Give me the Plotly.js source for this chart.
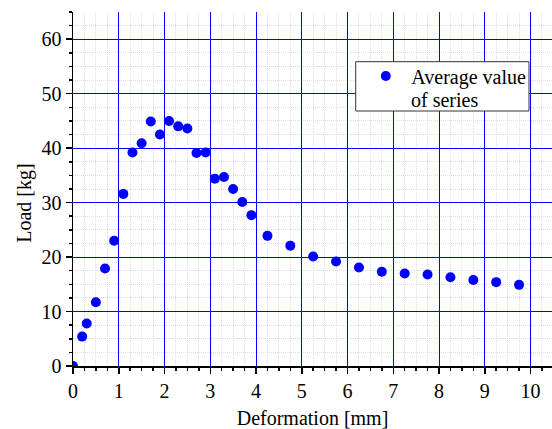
<!DOCTYPE html>
<html>
<head>
<meta charset="utf-8">
<script src="https://cdn.plot.ly/plotly-3.0.1.min.js"></script>
<style>html,body{margin:0;padding:0;background:#fff;} #chart{width:552px;height:429px;}</style>
</head>
<body>
<div id="chart"></div>
<script>
var deformation = [0, 0.2, 0.3, 0.5, 0.7, 0.9, 1.1, 1.3, 1.5, 1.7, 1.9, 2.1, 2.3, 2.5, 2.7, 2.9, 3.1, 3.3, 3.5, 3.7, 3.9, 4.25, 4.75, 5.25, 5.75, 6.25, 6.75, 7.25, 7.75, 8.25, 8.75, 9.25, 9.75];
var load = [0, 5.4, 7.8, 11.7, 17.9, 23.0, 31.6, 39.2, 40.9, 44.9, 42.5, 45.0, 44.0, 43.6, 39.1, 39.2, 34.4, 34.7, 32.5, 30.1, 27.7, 23.9, 22.1, 20.1, 19.2, 18.1, 17.3, 17.0, 16.8, 16.3, 15.8, 15.4, 14.9];
var seriesNameLine1 = 'Average value';
var seriesNameLine2 = 'of series';
var xTitle = 'Deformation [mm]';
var yTitle = 'Load [kg]';

var font = 'Liberation Serif, Times New Roman, serif';

// minor tick positions (excluding the major ones so the blue grid stays clean)
var xMinor = [], yMinor = [];
for (var i = 1; i * 0.25 <= 10.47; i++) { if (i % 4 !== 0) xMinor.push(i * 0.25); }
for (var j = 1; j * 2.5 <= 65; j++) { if (j % 4 !== 0) yMinor.push(j * 2.5); }

var trace = {
  x: deformation, y: load, type: 'scatter', mode: 'markers', name: seriesNameLine1,
  marker: {color: '#0000ff', size: 10},
  cliponaxis: true
};

var layout = {
  width: 552, height: 429,
  margin: {l: 73, r: 0, t: 12, b: 63},
  paper_bgcolor: '#fff', plot_bgcolor: '#fff',
  font: {family: font, size: 20, color: '#000'},
  showlegend: true,
  legend: {
    x: 0.5998, y: 0.8744, xanchor: 'left', yanchor: 'top',
    bgcolor: 'rgba(0,0,0,0)', borderwidth: 0,
    font: {family: font, size: 20, color: '#000'},
    itemwidth: 41
  },
  shapes: [{
    type: 'rect', xref: 'paper', yref: 'paper', layer: 'above',
    x0: 0.5902, x1: 0.952, y0: 0.7203, y1: 0.8596,
    fillcolor: '#fff', line: {color: '#333', width: 1}
  }],
  xaxis: {
    range: [0, 10.47], dtick: 1, tick0: 0,
    showline: true, linecolor: '#000', linewidth: 1.5,
    ticks: 'outside', ticklen: 6, tickcolor: '#000', tickwidth: 1.5,
    showgrid: true, gridcolor: '#0000ff', gridwidth: 1,
    zeroline: false,
    minor: {tickmode: 'array', tickvals: xMinor, ticks: 'outside', ticklen: 3, tickcolor: '#000', showgrid: true, gridcolor: '#dedede', griddash: '1px,1px', gridwidth: 1},
    tickfont: {family: font, size: 20, color: '#000'},
    title: {text: xTitle, font: {family: font, size: 20, color: '#000'}, standoff: 16}
  },
  yaxis: {
    range: [0, 65], dtick: 10, tick0: 0,
    showline: true, linecolor: '#000', linewidth: 1.5,
    ticks: 'outside', ticklen: 6, tickcolor: '#000', tickwidth: 1.5,
    showgrid: true, gridcolor: '#0000ff', gridwidth: 1,
    zeroline: false,
    minor: {tickmode: 'array', tickvals: yMinor, ticks: 'outside', ticklen: 3, tickcolor: '#000', showgrid: true, gridcolor: '#dedede', griddash: '1px,1px', gridwidth: 1},
    tickfont: {family: font, size: 20, color: '#000'},
    title: {text: ''}
  },
  annotations: [{
    text: yTitle, textangle: -90, xref: 'paper', yref: 'paper',
    x: -0.101, y: 0.46, xanchor: 'center', yanchor: 'middle', showarrow: false,
    font: {family: font, size: 20, color: '#000'}
  }, {
    text: seriesNameLine2, xref: 'paper', yref: 'paper',
    x: 0.7025, y: 0.7513, xanchor: 'left', yanchor: 'middle', showarrow: false,
    font: {family: font, size: 20, color: '#000'}
  }]
};

Plotly.newPlot('chart', [trace], layout, {displayModeBar: false, staticPlot: true});
</script>
</body>
</html>
